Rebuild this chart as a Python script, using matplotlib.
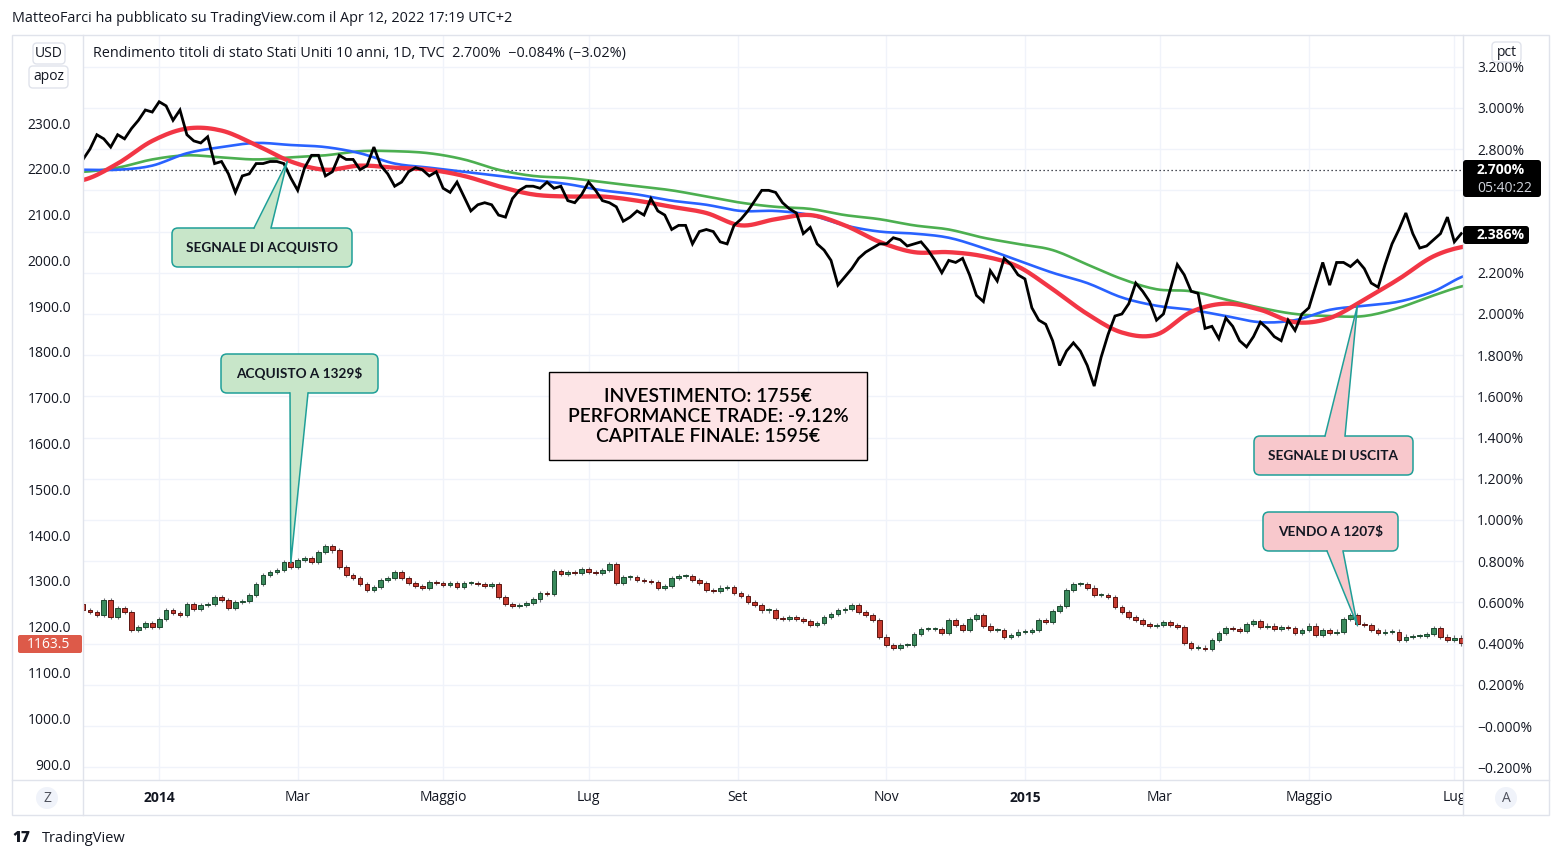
import numpy as np
import matplotlib
matplotlib.use("Agg")
import matplotlib.pyplot as plt
from matplotlib.patches import FancyBboxPatch, Polygon, Rectangle, Circle
from matplotlib.lines import Line2D
from matplotlib.transforms import Affine2D

plt.rcParams['font.family'] = ['Open Sans', 'DejaVu Sans']

# ---------------- data ----------------
START = '2013-11-29'
HOLIDAYS = ['2013-12-25', '2014-01-01', '2014-01-20', '2014-02-17', '2014-04-18',
            '2014-05-26', '2014-07-04', '2014-09-01', '2014-10-13', '2014-11-11',
            '2014-11-27', '2014-12-25', '2015-01-01', '2015-01-19', '2015-02-16',
            '2015-04-03', '2015-05-25', '2015-07-03']

# US 10Y yield (%), one value every 2 trading days from START
yield_step = 2
yield_pct = [
    2.75, 2.80, 2.87, 2.85, 2.81, 2.87, 2.85, 2.90, 2.94, 2.99,
    2.98, 3.03, 3.01, 2.94, 2.99, 2.87, 2.84, 2.83, 2.86, 2.73,
    2.74, 2.68, 2.59, 2.67, 2.68, 2.73, 2.73, 2.74, 2.74, 2.73,
    2.66, 2.60, 2.71, 2.77, 2.77, 2.67, 2.69, 2.77, 2.75, 2.75,
    2.70, 2.72, 2.81, 2.72, 2.68, 2.62, 2.64, 2.69, 2.71, 2.70,
    2.67, 2.69, 2.61, 2.59, 2.64, 2.57, 2.50, 2.53, 2.54, 2.53,
    2.48, 2.47, 2.56, 2.60, 2.62, 2.62, 2.61, 2.64, 2.61, 2.62,
    2.55, 2.54, 2.58, 2.64, 2.60, 2.55, 2.54, 2.52, 2.45, 2.47,
    2.50, 2.48, 2.56, 2.50, 2.48, 2.41, 2.43, 2.43, 2.34, 2.40,
    2.41, 2.40, 2.35, 2.34, 2.43, 2.46, 2.50, 2.55, 2.60, 2.60,
    2.59, 2.54, 2.51, 2.49, 2.39, 2.42, 2.34, 2.31, 2.26, 2.14,
    2.18, 2.22, 2.27, 2.30, 2.32, 2.34, 2.34, 2.37, 2.36, 2.33,
    2.34, 2.35, 2.31, 2.26, 2.20, 2.26, 2.25, 2.27, 2.19, 2.09,
    2.06, 2.21, 2.16, 2.27, 2.24, 2.19, 2.17, 2.03, 1.97, 1.95,
    1.87, 1.75, 1.82, 1.86, 1.82, 1.75, 1.65, 1.79, 1.90, 1.99,
    2.00, 2.05, 2.15, 2.11, 2.06, 1.97, 2.00, 2.12, 2.24, 2.19,
    2.11, 2.10, 1.93, 1.94, 1.88, 1.98, 1.94, 1.87, 1.84, 1.89,
    1.96, 1.93, 1.89, 1.87, 1.97, 1.92, 2.00, 2.03, 2.14, 2.25,
    2.14, 2.25, 2.25, 2.23, 2.26, 2.22, 2.15, 2.13, 2.24, 2.34,
    2.41, 2.49, 2.39, 2.32, 2.33, 2.36, 2.39, 2.47, 2.35, 2.39,
]

# moving averages (%), one value every 10 trading days from START
ma_step = 10
ma_red = [2.65, 2.73, 2.84, 2.90, 2.89, 2.82, 2.74, 2.70, 2.72, 2.71,
          2.70, 2.67, 2.62, 2.58, 2.57, 2.57, 2.55, 2.52, 2.49, 2.43,
          2.46, 2.48, 2.43, 2.35, 2.30, 2.30, 2.28, 2.23, 2.12, 2.00,
          1.91, 1.90, 2.01, 2.05, 2.02, 1.96, 1.98, 2.07, 2.17, 2.28, 2.33]
ma_blue = [2.70, 2.70, 2.72, 2.78, 2.81, 2.83, 2.82, 2.81, 2.78, 2.73,
           2.71, 2.69, 2.67, 2.65, 2.63, 2.60, 2.58, 2.55, 2.53, 2.50,
           2.50, 2.48, 2.43, 2.40, 2.39, 2.37, 2.32, 2.26, 2.20, 2.15,
           2.08, 2.04, 2.02, 1.99, 1.96, 1.97, 2.02, 2.04, 2.06, 2.11, 2.19]
ma_green = [2.69, 2.71, 2.75, 2.77, 2.76, 2.75, 2.76, 2.77, 2.79, 2.79,
            2.78, 2.75, 2.70, 2.67, 2.66, 2.64, 2.62, 2.60, 2.57, 2.54,
            2.52, 2.51, 2.48, 2.46, 2.43, 2.41, 2.37, 2.34, 2.31, 2.24,
            2.17, 2.12, 2.11, 2.07, 2.03, 2.00, 1.99, 1.99, 2.03, 2.09, 2.14]

# gold price candles (USD), close every 2 trading days from START
gold_step = 2
gold_open0 = 1250
gold_close = [
    1236, 1232, 1226, 1258, 1222, 1241, 1232, 1193, 1199, 1208,
    1199, 1217, 1236, 1230, 1226, 1250, 1239, 1247, 1250, 1265,
    1258, 1241, 1254, 1256, 1269, 1293, 1313, 1319, 1324, 1341,
    1330, 1346, 1350, 1341, 1363, 1376, 1367, 1330, 1313, 1306,
    1293, 1280, 1287, 1302, 1306, 1319, 1306, 1295, 1289, 1285,
    1298, 1295, 1291, 1295, 1287, 1295, 1295, 1293, 1289, 1293,
    1265, 1250, 1245, 1247, 1252, 1260, 1274, 1271, 1322, 1315,
    1319, 1317, 1326, 1319, 1317, 1324, 1337, 1295, 1308, 1308,
    1302, 1300, 1298, 1285, 1289, 1306, 1311, 1311, 1302, 1295,
    1280, 1278, 1285, 1287, 1274, 1267, 1254, 1247, 1236, 1236,
    1219, 1217, 1221, 1217, 1212, 1204, 1208, 1221, 1228, 1236,
    1239, 1247, 1232, 1226, 1215, 1178, 1160, 1154, 1160, 1160,
    1184, 1195, 1195, 1195, 1186, 1215, 1204, 1193, 1217, 1226,
    1202, 1193, 1193, 1178, 1182, 1189, 1189, 1193, 1215, 1210,
    1234, 1245, 1280, 1293, 1293, 1285, 1269, 1269, 1265, 1243,
    1232, 1221, 1215, 1206, 1202, 1204, 1210, 1204, 1199, 1164,
    1154, 1154, 1151, 1171, 1186, 1197, 1195, 1191, 1206, 1212,
    1199, 1202, 1195, 1199, 1197, 1186, 1193, 1202, 1182, 1193,
    1186, 1189, 1217, 1226, 1206, 1204, 1193, 1186, 1189, 1189,
    1171, 1178, 1180, 1180, 1184, 1197, 1178, 1171, 1176, 1163.5,
]

tick_dates = ['2014-01-02', '2014-03-03', '2014-05-01', '2014-07-01', '2014-09-02',
              '2014-11-03', '2015-01-02', '2015-03-02', '2015-05-01', '2015-07-01']
tick_labels = ['2014', 'Mar', 'Maggio', 'Lug', 'Set', 'Nov', '2015', 'Mar', 'Maggio', 'Lug']
year_labels = {'2014', '2015'}

pct_ticks = [-0.2, 0.0, 0.2, 0.4, 0.6, 0.8, 1.0, 1.2, 1.4, 1.6, 1.8, 2.0, 2.2, 2.4,
             2.6, 2.8, 3.0, 3.2]
pct_hidden = [2.4, 2.6]          # covered by the price labels
usd_ticks = [900, 1000, 1100, 1200, 1300, 1400, 1500, 1600, 1700, 1800, 1900, 2000,
             2100, 2200, 2300, 2400]
usd_hidden = [2400]              # covered by the scale badge

last_yield = 2.700
last_gold = 1163.5
current_yield = 2.386

buy_signal = ('2014-02-26', 2.74)
buy_price = ('2014-02-27', 1339)
sell_signal = ('2015-05-21', 2.04)
sell_price = ('2015-05-21', 1203)

header = "MatteoFarci ha pubblicato su TradingView.com il Apr 12, 2022 17:19 UTC+2"
legend_title = "Rendimento titoli di stato Stati Uniti 10 anni, 1D, TVC  2.700%  \u22120.084% (\u22123.02%)"
info_lines = ["INVESTIMENTO: 1755\u20ac", "PERFORMANCE TRADE: -9.12%", "CAPITALE FINALE: 1595\u20ac"]

# ---------------- figure ----------------
W, H = 1562, 860
TXT = '#131722'
GRID = '#f0f3fa'
FRAME = '#e0e3eb'
FS = 10.0

def bar_of(d):
    return float(np.busday_count(START, d, holidays=HOLIDAYS))

def catmull(x, y, n=10):
    """Smooth drawing path through the given points (rendering only)."""
    x = np.asarray(x, float)
    y = np.asarray(y, float)
    P = np.r_[y[0], y, y[-1]]
    xs, ys = [], []
    for i in range(len(y) - 1):
        p0, p1, p2, p3 = P[i], P[i + 1], P[i + 2], P[i + 3]
        t = np.linspace(0, 1, n, endpoint=False)
        ys.append(0.5 * ((2 * p1) + (-p0 + p2) * t + (2 * p0 - 5 * p1 + 4 * p2 - p3) * t ** 2
                         + (-p0 + 3 * p1 - 3 * p2 + p3) * t ** 3))
        xs.append(x[i] + (x[i + 1] - x[i]) * t)
    xs.append([x[-1]])
    ys.append([y[-1]])
    return np.concatenate(xs), np.concatenate(ys)

fig = plt.figure(figsize=(W / 100, H / 100), dpi=100)
fig.patch.set_facecolor('white')
PX = Affine2D().scale(1.0 / W, -1.0 / H).translate(0, 1) + fig.transFigure

ax = fig.add_axes([83 / W, 1 - 780 / H, 1380 / W, 745 / H])
axu = ax.twinx()
for a in (ax, axu):
    for s in a.spines.values():
        s.set_visible(False)
ax.set_xlim(0, 398.5)
ax.set_ylim(-0.262, 3.354)
axu.set_ylim(865.2, 2492.2)
ax.set_xticks([])
axu.set_xticks([])

# right (pct) axis
ax.yaxis.tick_right()
ax.set_yticks(pct_ticks)
def pct_fmt(v):
    if v in pct_hidden:
        return ''
    if v <= 0:
        return '\u2212' + f"{abs(v):.3f}%"
    return f"{v:.3f}%"
ax.set_yticklabels([pct_fmt(v) for v in pct_ticks])
ax.tick_params(axis='y', length=0, pad=10.0, labelsize=FS, labelcolor=TXT,
               left=False, labelleft=False, right=True, labelright=True)
# left (usd) axis
axu.yaxis.tick_left()
axu.set_yticks(usd_ticks)
axu.set_yticklabels(['' if v in usd_hidden else f"{v:.1f}" for v in usd_ticks])
axu.tick_params(axis='y', length=0, pad=8.5, labelsize=FS, labelcolor=TXT,
                left=True, labelleft=True, right=False, labelright=False)

# grid
for v in pct_ticks:
    ax.axhline(v, color=GRID, lw=1, zorder=0)
tick_bars = [bar_of(d) for d in tick_dates]
for b in tick_bars:
    ax.axvline(b, color=GRID, lw=1, zorder=0)

# last-value dotted line
ax.axhline(last_yield, color='#131722', lw=0.9, ls=(0, (1, 2.2)), zorder=1)

# lines
xl = np.arange(len(yield_pct)) * yield_step
xm = np.arange(len(ma_red)) * ma_step
ax.plot(*catmull(xm, ma_green), color='#4caf50', lw=1.9, zorder=2, solid_capstyle='round')
ax.plot(*catmull(xm, ma_blue), color='#2962ff', lw=1.9, zorder=3, solid_capstyle='round')
ax.plot(*catmull(xm, ma_red), color='#f23645', lw=3.1, zorder=4, solid_capstyle='round')
ax.plot(xl, yield_pct, color='black', lw=2.0, zorder=5, solid_joinstyle='miter')

# candles
close = np.array(gold_close, dtype=float)
opens = np.r_[gold_open0, close[:-1]]
xc = np.arange(len(close)) * gold_step
up = close >= opens
lo = np.minimum(opens, close)
hi = np.maximum(opens, close)
WICK_PAD = 5.0
axu.vlines(xc, lo - WICK_PAD, hi + WICK_PAD, color='#6f7178', lw=0.8, zorder=2)
axu.bar(xc, np.maximum(hi - lo, 1.8), bottom=lo, width=1.35,
        color=np.where(up, '#3a8a5c', '#c6392e'),
        edgecolor=np.where(up, '#1d4a30', '#5a1410'), linewidth=0.7, zorder=3)

# time axis strip
tax = fig.add_axes([83 / W, 1 - 815 / H, 1380 / W, 35 / H], sharex=ax)
tax.axis('off')
for b, lab in zip(tick_bars, tick_labels):
    tax.text(b, 0.49, lab, transform=tax.get_xaxis_transform(), ha='center', va='center',
             fontsize=FS, color=TXT, clip_on=True,
             fontweight='bold' if lab in year_labels else 'normal')

# ---------------- frame & decorations ----------------
def fline(xs, ys, **kw):
    fig.add_artist(Line2D(xs, ys, transform=PX, **kw))

fig.add_artist(Rectangle((12, 35), 1537, 780, fill=False, ec=FRAME, lw=1, transform=PX))
fline([83, 83], [35, 815], color=FRAME, lw=1)
fline([1463, 1463], [35, 815], color=FRAME, lw=1)
fline([12, 1549], [780, 780], color=FRAME, lw=1)

fig.text(12, 19, header, transform=PX, ha='left', va='center', fontsize=10.4, color=TXT)
fig.text(93, 53, legend_title, transform=PX, ha='left', va='center', fontsize=10.4, color=TXT)

def badge(x, y, w, h, s):
    fig.add_artist(FancyBboxPatch((x, y), w, h, boxstyle='round,pad=0,rounding_size=4',
                                  fc='white', ec=FRAME, lw=1, transform=PX, zorder=6))
    fig.text(x + w / 2, y + h / 2, s, transform=PX, ha='center', va='center',
             fontsize=FS, color=TXT, zorder=7)

badge(33, 43, 32, 21, 'USD')
badge(29, 66, 39, 22, 'apoz')
badge(1492, 42, 29, 20, 'pct')

# price labels
fig.add_artist(FancyBboxPatch((1463, 160), 78, 37, boxstyle='round,pad=0,rounding_size=3',
                              fc='black', ec='none', transform=PX, zorder=6))
fig.text(1477, 170.5, f"{last_yield:.3f}%", transform=PX, ha='left', va='center',
         fontsize=FS, color='white', fontweight='bold', zorder=7)
fig.text(1477, 188, "05:40:22", transform=PX, ha='left', va='center',
         fontsize=FS, color='#d1d4dc', zorder=7)
fig.add_artist(FancyBboxPatch((1463, 226), 66, 18, boxstyle='round,pad=0,rounding_size=3',
                              fc='black', ec='none', transform=PX, zorder=6))
fig.text(1477, 235, f"{current_yield:.3f}%", transform=PX, ha='left', va='center',
         fontsize=FS, color='white', fontweight='bold', zorder=7)
fig.add_artist(FancyBboxPatch((18, 635), 64, 18, boxstyle='round,pad=0,rounding_size=2',
                              fc='#dd5a49', ec='none', transform=PX, zorder=6))
fig.text(48, 644, f"{last_gold:.1f}", transform=PX, ha='center', va='center',
         fontsize=FS, color='white', zorder=7)

# Z / A buttons
for cx, s in ((47, 'Z'), (1506, 'A')):
    fig.add_artist(Circle((cx, 798), 11, fc='#f0f3fa', ec='none', transform=PX, zorder=6))
    fig.text(cx, 798, s, transform=PX, ha='center', va='center', fontsize=FS,
             color='#50535e', zorder=7)

# footer
fig.text(12, 838, "17", transform=PX, ha='left', va='center', fontsize=11,
         fontweight='heavy', color=TXT)
fig.text(42, 838, "TradingView", transform=PX, ha='left', va='center', fontsize=10.5,
         color=TXT)

# ---------------- callouts ----------------
def to_px(axis, x, y):
    xd, yd = axis.transData.transform((x, y))
    return xd, H - yd

def callout(x0, y0, w, h, text, fc, ec, base, tip):
    fig.add_artist(FancyBboxPatch((x0, y0), w, h, boxstyle='round,pad=0,rounding_size=6',
                                  fc=fc, ec=ec, lw=1.1, transform=PX, zorder=8))
    tx, ty = tip
    by = y0 + 1.5 if ty < y0 else y0 + h - 1.5
    eby = y0 if ty < y0 else y0 + h
    fig.add_artist(Polygon([(base[0], by), (tx, ty), (base[1], by)], closed=True,
                           fc=fc, ec='none', transform=PX, zorder=9))
    fline([base[0], tx, base[1]], [eby, ty, eby], color=ec, lw=1.1, zorder=9)
    fig.text(x0 + w / 2, y0 + h / 2 + 0.5, text, transform=PX, ha='center', va='center',
             fontsize=9.8, fontweight='bold', color=TXT, zorder=10, family=['Lato', 'DejaVu Sans'])

GFC, PFC, CEC = '#c8e6c9', '#f8c8cc', '#1f9f98'
callout(172, 228, 180, 39, "SEGNALE DI ACQUISTO", GFC, CEC, (254, 271),
        to_px(ax, bar_of(buy_signal[0]), buy_signal[1]))
callout(221, 354, 157, 39, "ACQUISTO A 1329$", GFC, CEC, (290, 308),
        to_px(axu, bar_of(buy_price[0]), buy_price[1]))
callout(1254, 436, 159, 39, "SEGNALE DI USCITA", PFC, CEC, (1325, 1345),
        to_px(ax, bar_of(sell_signal[0]), sell_signal[1]))
callout(1263, 512, 135, 39, "VENDO A 1207$", PFC, CEC, (1327, 1343),
        to_px(axu, bar_of(sell_price[0]), sell_price[1]))

# info box
fig.add_artist(Rectangle((549, 372), 318, 88, fc='#fde4e6', ec='black', lw=1,
                         transform=PX, zorder=8))
for i, s in enumerate(info_lines):
    fig.text(708, 396 + 20 * i, s, transform=PX, ha='center', va='center',
             fontsize=13.9, color='black', fontweight='semibold', zorder=10,
             family=['Lato', 'DejaVu Sans'])

fig.savefig('out.png', dpi=100)
